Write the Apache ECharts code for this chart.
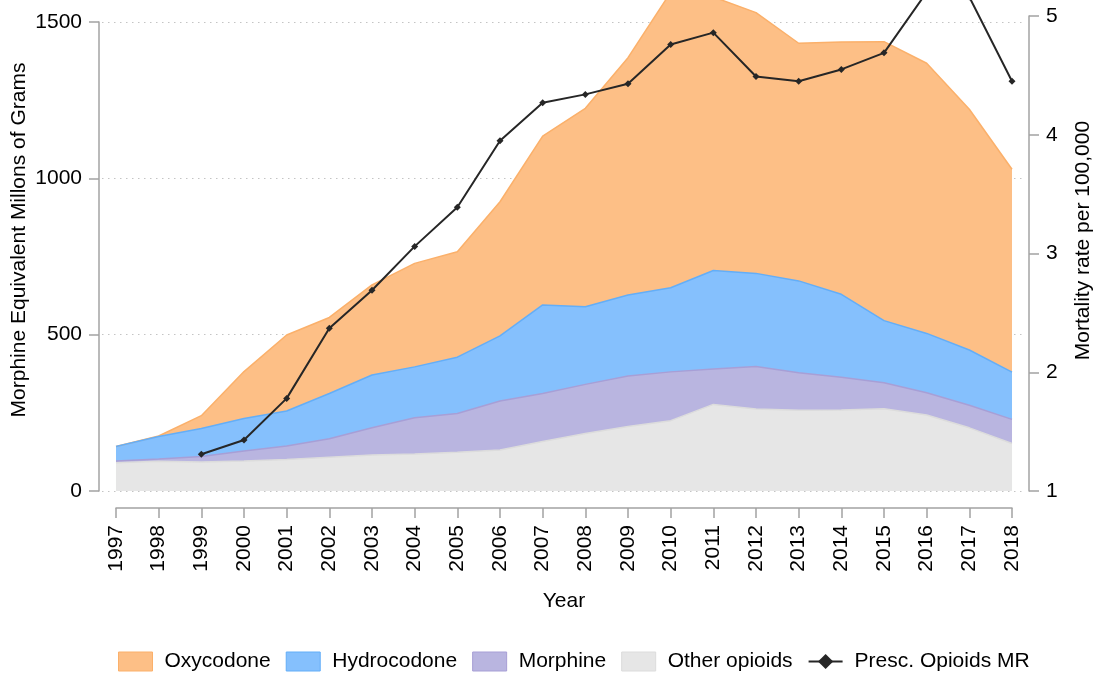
<!DOCTYPE html>
<html>
<head>
<meta charset="utf-8">
<script src="https://cdn.jsdelivr.net/npm/echarts@6/dist/echarts.min.js"></script>
<style>
  html, body { margin: 0; padding: 0; background: #fff; }
  #chart { width: 1098px; height: 675px; }
</style>
</head>
<body>
<div id="chart"></div>
<script>
// years on the x axis
var years = ['1997','1998','1999','2000','2001','2002','2003','2004','2005','2006','2007',
             '2008','2009','2010','2011','2012','2013','2014','2015','2016','2017','2018'];

// top edge of each band (cumulative, morphine equivalent millions of grams)
var oxycodoneTop   = [142,176,241,382,499,555,659,728,765,925,1135,1224,1386,1595,1580,1530,1432,1436,1437,1368,1221,1029];
var hydrocodoneTop = [142,174,200,232,256,312,371,397,428,496,595,589,627,650,705,696,672,629,545,504,451,380];
var morphineTop    = [96,102,110,128,144,167,202,234,248,288,312,341,368,381,390,398,378,364,346,314,274,229];
var otherTop       = [90,95,93,96,101,108,115,118,124,131,158,184,206,225,277,262,258,259,263,243,202,152];

// prescription opioid mortality rate per 100,000 (right axis)
var mortality = [null,null,1.31,1.43,1.78,2.37,2.69,3.06,3.39,3.95,4.27,4.34,4.43,4.76,4.86,4.49,4.45,4.55,4.69,5.20,5.16,4.45];

var leftTicks = [0, 500, 1000, 1500];
var rightTicks = [1, 2, 3, 4, 5];

var FONT = 'Liberation Sans, Arial, sans-serif';
var AXIS_GREY = '#a3a3a3';

function pairs(arr) {
    return arr.map(function (v, i) { return [Number(years[i]), v]; });
}

function areaSeries(name, data, fill, edge) {
    return {
        name: name,
        type: 'line',
        xAxisIndex: 0,
        yAxisIndex: 0,
        data: pairs(data),
        symbol: 'none',
        clip: false,
        lineStyle: { color: edge, width: 1.5 },
        itemStyle: { color: fill },
        areaStyle: { color: fill, opacity: 1 }
    };
}

var myChart = echarts.init(document.getElementById('chart'));

var option = {
    animation: false,
    textStyle: { fontFamily: FONT },
    grid: [
        { left: 102, right: 74, top: 22, bottom: 184, containLabel: false, outerBoundsMode: 'none' },
        { left: 116, right: 86, top: 16, bottom: 184, containLabel: false, outerBoundsMode: 'none' }
    ],
    xAxis: [
        {
            gridIndex: 0, type: 'value',
            min: 1996.672, max: 2018.281,
            show: false
        },
        {
            gridIndex: 1, type: 'category',
            data: years,
            boundaryGap: false,
            offset: 17,
            name: 'Year',
            nameLocation: 'middle',
            nameGap: 83,
            nameMoveOverlap: false,
            nameTextStyle: { fontSize: 21, color: '#000', fontFamily: FONT },
            axisLine: { lineStyle: { color: AXIS_GREY, width: 1.5 } },
            axisTick: { length: 10, alignWithLabel: true, lineStyle: { color: AXIS_GREY, width: 1.5 } },
            axisLabel: { rotate: 90, fontSize: 21, color: '#000', margin: 17, interval: 0, fontFamily: FONT },
            splitLine: { show: false }
        }
    ],
    yAxis: [
        {
            gridIndex: 0, type: 'value',
            position: 'left', offset: 3,
            min: leftTicks[0], max: leftTicks[leftTicks.length - 1], interval: 500,
            name: 'Morphine Equivalent Millons of Grams',
            nameLocation: 'middle',
            nameRotate: 90,
            nameGap: 69,
            nameMoveOverlap: false,
            nameTextStyle: { fontSize: 21, color: '#000', fontFamily: FONT, padding: [0, 0, 0, 33] },
            axisLine: { show: true, lineStyle: { color: AXIS_GREY, width: 1.5 } },
            axisTick: { show: true, length: 10, lineStyle: { color: AXIS_GREY, width: 1.5 } },
            axisLabel: { fontSize: 21, color: '#000', margin: 17, fontFamily: FONT,
                         formatter: function (v) { return String(v); } },
            splitLine: { show: true, lineStyle: { color: '#c4c4c4', width: 1, type: [1.5, 4.5] } }
        },
        {
            gridIndex: 1, type: 'value',
            position: 'right', offset: 17,
            min: rightTicks[0], max: rightTicks[rightTicks.length - 1], interval: 1,
            name: 'Mortality rate per 100,000',
            nameLocation: 'middle',
            nameRotate: 90,
            nameGap: 44,
            nameMoveOverlap: false,
            nameTextStyle: { fontSize: 21, color: '#000', fontFamily: FONT, padding: [0, 0, 0, 26] },
            axisLine: { show: true, lineStyle: { color: AXIS_GREY, width: 1.5 } },
            axisTick: { show: true, length: 10, lineStyle: { color: AXIS_GREY, width: 1.5 } },
            axisLabel: { fontSize: 21, color: '#000', margin: 17, fontFamily: FONT },
            splitLine: { show: false }
        }
    ],
    legend: {
        left: 113,
        top: 646,
        itemWidth: 34,
        itemHeight: 19,
        itemGap: 15,
        textStyle: { fontSize: 21, color: '#000', fontFamily: FONT, padding: [0, 0, 0, 7] },
        data: [
            { name: 'Oxycodone', icon: 'rect', itemStyle: { color: '#fdbf86', borderColor: '#fbb06a', borderWidth: 1 } },
            { name: 'Hydrocodone', icon: 'rect', itemStyle: { color: '#85c0fd', borderColor: '#63aef8', borderWidth: 1 } },
            { name: 'Morphine', icon: 'rect', itemStyle: { color: '#b9b5e0', borderColor: '#a79fd6', borderWidth: 1 } },
            { name: 'Other opioids', icon: 'rect', itemStyle: { color: '#e6e6e6', borderColor: '#dcdcdc', borderWidth: 1 } },
            { name: 'Presc. Opioids MR' }
        ]
    },
    series: [
        areaSeries('Oxycodone', oxycodoneTop, '#fdbf86', '#fbb06a'),
        areaSeries('Hydrocodone', hydrocodoneTop, '#85c0fd', '#63aef8'),
        areaSeries('Morphine', morphineTop, '#b9b5e0', '#a79fd6'),
        areaSeries('Other opioids', otherTop, '#e6e6e6', '#dcdcdc'),
        {
            name: 'Presc. Opioids MR',
            type: 'line',
            xAxisIndex: 1,
            yAxisIndex: 1,
            data: mortality.map(function (v) { return v === null ? '-' : v; }),
            clip: false,
            symbol: 'diamond',
            symbolSize: 7,
            showAllSymbol: true,
            connectNulls: false,
            lineStyle: { color: '#262626', width: 2 },
            itemStyle: { color: '#262626' },
            z: 5
        }
    ]
};

myChart.setOption(option, true);
</script>
</body>
</html>
